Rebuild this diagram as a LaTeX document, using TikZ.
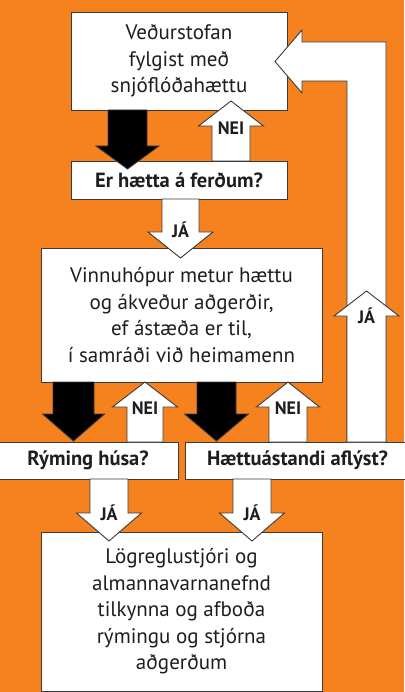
\documentclass[tikz,border=0pt]{standalone}
\usepackage{fontspec}
\setmainfont{PT Sans}
\definecolor{bg}{HTML}{F5821F}
\definecolor{ln}{HTML}{3A3A3A}
\definecolor{tx}{HTML}{1E1E1E}
\newcommand\blockarrow[7]{\filldraw[#1] (#2-#3,#5)--(#2-#3,#6)--(#2-#4,#6)--(#2,#7)--(#2+#4,#6)--(#2+#3,#6)--(#2+#3,#5)--cycle;}
\begin{document}
\begin{tikzpicture}[x=1pt,y=-1pt,
 box/.style={draw=ln,fill=white,line width=0.9pt,inner sep=0pt,outer sep=0pt,align=center,text=tx,font=\fontsize{21}{26.5}\selectfont},
 qbox/.style={box,font=\fontsize{20.5}{22}\selectfont\bfseries},
 lbl/.style={text=tx,font=\fontsize{18}{18}\selectfont\bfseries,inner sep=0pt},
 wa/.style={draw=ln,fill=white,line width=0.9pt,line join=miter},
 ba/.style={draw=ln,fill=black,line width=0.9pt,line join=miter}]
\fill[bg] (0,0) rectangle (404,692);
\useasboundingbox (0,0) rectangle (404,692);
% boxes
\node[box,minimum width=216pt,minimum height=98pt] (b1) at (179,61) {Veðurstofan\\fylgist með\\snjóflóðahættu};
\node[qbox,minimum width=216pt,minimum height=38pt] (b2) at (179,180) {Er hætta á ferðum?};
\node[box,minimum width=281pt,minimum height=134pt] (b3) at (181.5,315) {Vinnuhópur metur hættu\\og ákveður aðgerðir,\\ef ástæða er til,\\í samráði við heimamenn};
\node[qbox,minimum width=180pt,minimum height=37pt] (b4) at (88,460.5) {Rýming húsa?};
\node[qbox,minimum width=225pt,minimum height=37pt] (b5) at (297.5,460.5) {Hættuástandi aflýst?};
\node[box,minimum width=281pt,minimum height=159pt] (b6) at (181.5,611.5) {Lögreglustjóri og\\almannavarnanefnd\\tilkynna og afboða\\rýmingu og stjórna\\aðgerðum};
% loop back (JÁ from b5 to b1)
\filldraw[wa] (347,442)--(347,81)--(302,81)--(302,93)--(275,61.5)--(302,30)--(302,42)--(386,42)--(386,442)--cycle;
\blockarrow{wa}{366.5}{19.5}{32.5}{442}{316}{291}
% arrows
\blockarrow{ba}{127.5}{19.5}{31.5}{110}{146}{169}
\blockarrow{wa}{231}{19}{32.5}{161}{126}{101}
\blockarrow{wa}{180.5}{18.5}{32.5}{199}{232}{258}
\blockarrow{ba}{73.5}{20.5}{31}{382}{414}{441}
\blockarrow{wa}{145}{18}{32.5}{442}{407}{382}
\blockarrow{ba}{216.5}{19.5}{32}{382}{414}{441}
\blockarrow{wa}{288}{19}{31.5}{442}{407}{382}
\blockarrow{wa}{109}{19}{32.5}{479}{513}{541}
\blockarrow{wa}{252}{19}{32.5}{479}{513}{541}
% labels
\node[lbl] (l1) at (231,128) {NEI};
\node[lbl] (l2) at (180.5,230) {JÁ};
\node[lbl] (l3) at (366.5,316) {JÁ};
\node[lbl] (l4) at (145,408) {NEI};
\node[lbl] (l5) at (288,408) {NEI};
\node[lbl] (l6) at (109,513) {JÁ};
\node[lbl] (l7) at (252,513) {JÁ};
\end{tikzpicture}
\end{document}
